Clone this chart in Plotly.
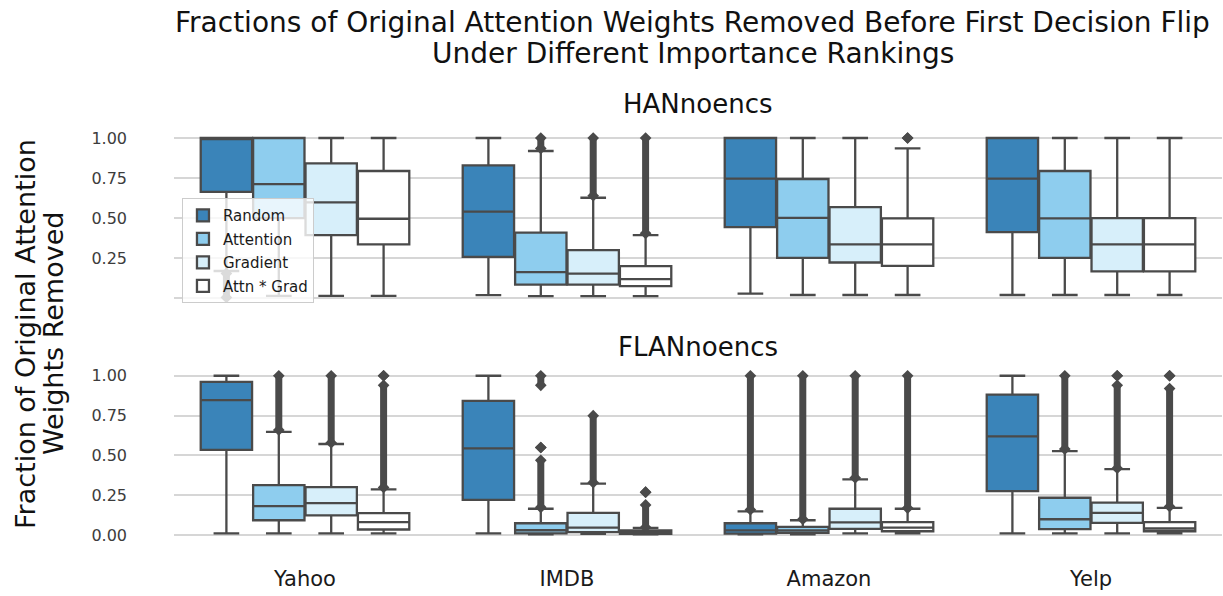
import plotly.graph_objects as go

# ---------------- data ----------------
categories = ["Yahoo", "IMDB", "Amazon", "Yelp"]
rankings = ["Random", "Attention", "Gradient", "Attn * Grad"]
colors = ["#3a84b9", "#8ecdee", "#d7effa", "#ffffff"]

# HANnoencs (top panel): per ranking, values per category
han_q1 = {"Random": [0.664, 0.258, 0.444, 0.413],
          "Attention": [0.50, 0.085, 0.252, 0.252],
          "Gradient": [0.394, 0.085, 0.223, 0.167],
          "Attn * Grad": [0.336, 0.075, 0.202, 0.167]}
han_med = {"Random": [1.0, 0.54, 0.746, 0.746],
           "Attention": [0.712, 0.163, 0.502, 0.498],
           "Gradient": [0.598, 0.154, 0.336, 0.336],
           "Attn * Grad": [0.496, 0.119, 0.336, 0.336]}
han_q3 = {"Random": [1.0, 0.829, 1.0, 1.0],
          "Attention": [1.0, 0.41, 0.744, 0.794],
          "Gradient": [0.842, 0.30, 0.569, 0.50],
          "Attn * Grad": [0.794, 0.20, 0.498, 0.50]}
han_lo = {"Random": [0.17, 0.019, 0.029, 0.02],
          "Attention": [0.014, 0.0125, 0.02, 0.02],
          "Gradient": [0.014, 0.0125, 0.02, 0.02],
          "Attn * Grad": [0.014, 0.0125, 0.02, 0.02]}
han_hi = {"Random": [1.0, 1.0, 1.0, 1.0],
          "Attention": [1.0, 0.919, 1.0, 1.0],
          "Gradient": [1.0, 0.627, 1.0, 1.0],
          "Attn * Grad": [1.0, 0.394, 0.935, 1.0]}
# outlier ranges (low, high) per category; dense flier columns
han_out = {"Random": [[(0.005, 0.155)], [], [], []],
           "Attention": [[], [(0.935, 1.0)], [], []],
           "Gradient": [[], [(0.64, 1.0)], [], []],
           "Attn * Grad": [[], [(0.405, 1.0)], [(1.0, 1.0)], []]}

# FLANnoencs (bottom panel)
flan_q1 = {"Random": [0.535, 0.222, 0.010, 0.277],
           "Attention": [0.094, 0.011, 0.015, 0.038],
           "Gradient": [0.124, 0.019, 0.040, 0.077],
           "Attn * Grad": [0.036, 0.008, 0.025, 0.025]}
flan_med = {"Random": [0.847, 0.545, 0.030, 0.62],
            "Attention": [0.182, 0.031, 0.030, 0.10],
            "Gradient": [0.201, 0.048, 0.080, 0.14],
            "Attn * Grad": [0.082, 0.018, 0.048, 0.042]}
flan_q3 = {"Random": [0.962, 0.843, 0.075, 0.882],
           "Attention": [0.314, 0.075, 0.052, 0.235],
           "Gradient": [0.302, 0.14, 0.166, 0.205],
           "Attn * Grad": [0.138, 0.03, 0.082, 0.082]}
flan_lo = {"Random": [0.011, 0.011, 0.005, 0.011],
           "Attention": [0.011, 0.005, 0.005, 0.011],
           "Gradient": [0.011, 0.008, 0.011, 0.011],
           "Attn * Grad": [0.011, 0.005, 0.011, 0.011]}
flan_hi = {"Random": [1.0, 1.0, 0.15, 1.0],
           "Attention": [0.648, 0.166, 0.094, 0.528],
           "Gradient": [0.572, 0.323, 0.35, 0.415],
           "Attn * Grad": [0.287, 0.046, 0.166, 0.172]}
flan_out = {"Random": [[], [], [(0.16, 1.0)], []],
            "Attention": [[(0.66, 1.0)], [(0.175, 0.47), (0.55, 0.55), (0.94, 1.0)],
                          [(0.10, 1.0)], [(0.54, 1.0)]],
            "Gradient": [[(0.58, 1.0)], [(0.33, 0.75)], [(0.36, 1.0)],
                         [(0.42, 0.94), (1.0, 1.0)]],
            "Attn * Grad": [[(0.30, 0.94), (1.0, 1.0)], [(0.05, 0.19), (0.27, 0.27)],
                            [(0.17, 1.0)], [(0.18, 0.92), (1.0, 1.0)]]}

# ---------------- figure ----------------
LINE = "#4a4a4a"
GROUP_W = 0.8
n_h = len(rankings)
box_w = GROUP_W / n_h

fig = go.Figure()

panels = [
    ("x", "y", han_q1, han_med, han_q3, han_lo, han_hi, han_out, True),
    ("x2", "y2", flan_q1, flan_med, flan_q3, flan_lo, flan_hi, flan_out, False),
]

for xa, ya, q1, med, q3, lo, hi, outs, show in panels:
    for h, r in enumerate(rankings):
        offset = (h - (n_h - 1) / 2) * box_w
        pos = [i + offset for i in range(len(categories))]
        fig.add_trace(go.Box(
            x=pos, q1=q1[r], median=med[r], q3=q3[r],
            lowerfence=lo[r], upperfence=hi[r],
            width=box_w * 0.98, whiskerwidth=0.5,
            fillcolor=colors[h], line=dict(color=LINE, width=2.3),
            boxpoints=False, name=r, legendgroup=r, showlegend=show,
            xaxis=xa, yaxis=ya, hoverinfo="skip",
        ))
        ox, oy = [], []
        for i, segs in enumerate(outs[r]):
            for a, b in segs:
                ox += [pos[i], pos[i], None]
                oy += [a, b, None]
        if ox:
            fig.add_trace(go.Scatter(
                x=ox, y=oy, mode="lines+markers",
                line=dict(color=LINE, width=7),
                marker=dict(symbol="diamond", size=9, color=LINE),
                showlegend=False, xaxis=xa, yaxis=ya, hoverinfo="skip",
                connectgaps=False,
            ))

FONT = "DejaVu Sans"
TICKC = "#3c3c3c"
grid = "#d6d6d6"

xcommon = dict(range=[-0.5, 3.5], showgrid=False, zeroline=False,
               tickvals=list(range(len(categories))), ticktext=categories,
               showline=False, ticks="")
fig.update_layout(
    width=1223, height=596,
    margin=dict(l=174, r=1, t=130, b=56),
    plot_bgcolor="white", paper_bgcolor="white",
    font=dict(family=FONT, color=TICKC),
    xaxis=dict(**xcommon, domain=[0, 1], anchor="y", showticklabels=False, matches="x2"),
    xaxis2=dict(**xcommon, domain=[0, 1], anchor="y2", showticklabels=True,
                tickfont=dict(size=21, color="#1a1a1a"), ticklabelstandoff=24),
    yaxis=dict(domain=[0.578, 1], range=[-0.03, 1.05], anchor="x",
               tickvals=[0, 0.25, 0.5, 0.75, 1.0],
               ticktext=["", "0.25", "0.50", "0.75", "1.00"],
               showgrid=True, gridcolor=grid, gridwidth=1.5, zeroline=False,
               tickfont=dict(size=16, color=TICKC), ticklabelstandoff=46),
    yaxis2=dict(domain=[0, 0.42], range=[-0.03, 1.05], anchor="x2",
                tickvals=[0, 0.25, 0.5, 0.75, 1.0],
                ticktext=["0.00", "0.25", "0.50", "0.75", "1.00"],
                showgrid=True, gridcolor=grid, gridwidth=1.5, zeroline=False,
                tickfont=dict(size=16, color=TICKC), ticklabelstandoff=46),
    legend=dict(x=0.0076, y=0.834, xanchor="left", yanchor="top",
                bgcolor="rgba(255,255,255,0.8)", bordercolor="#cccccc", borderwidth=1,
                font=dict(size=15, color="#1a1a1a"), tracegroupgap=1),
    showlegend=True,
)

ann = [
    dict(text="Fractions of Original Attention Weights Removed Before First Decision Flip",
         x=0.495, y=22, size=28),
    dict(text="Under Different Importance Rankings", x=0.495, y=53, size=28),
    dict(text="HANnoencs", x=0.5, y=104, size=26),
    dict(text="FLANnoencs", x=0.5, y=347, size=26),
]
for a in ann:
    fig.add_annotation(text=a["text"], xref="paper", yref="paper",
                       x=a["x"], y=(540 - a["y"]) / 410, xanchor="center", yanchor="middle",
                       showarrow=False, font=dict(family=FONT, size=a["size"], color="#111111"))

# y-axis title, two lines placed separately for tighter line spacing
for txt, px in [("Fraction of Original Attention", 25), ("Weights Removed", 53)]:
    fig.add_annotation(text=txt, xref="paper", yref="paper",
                       x=(px - 174) / 1048, y=(540 - 334) / 410,
                       xanchor="center", yanchor="middle", textangle=-90, showarrow=False,
                       font=dict(family=FONT, size=27, color="#111111"))

fig.write_html("out.html", config={"displayModeBar": False},
               post_script="document.body.style.margin='0px';document.body.style.overflow='hidden';")
